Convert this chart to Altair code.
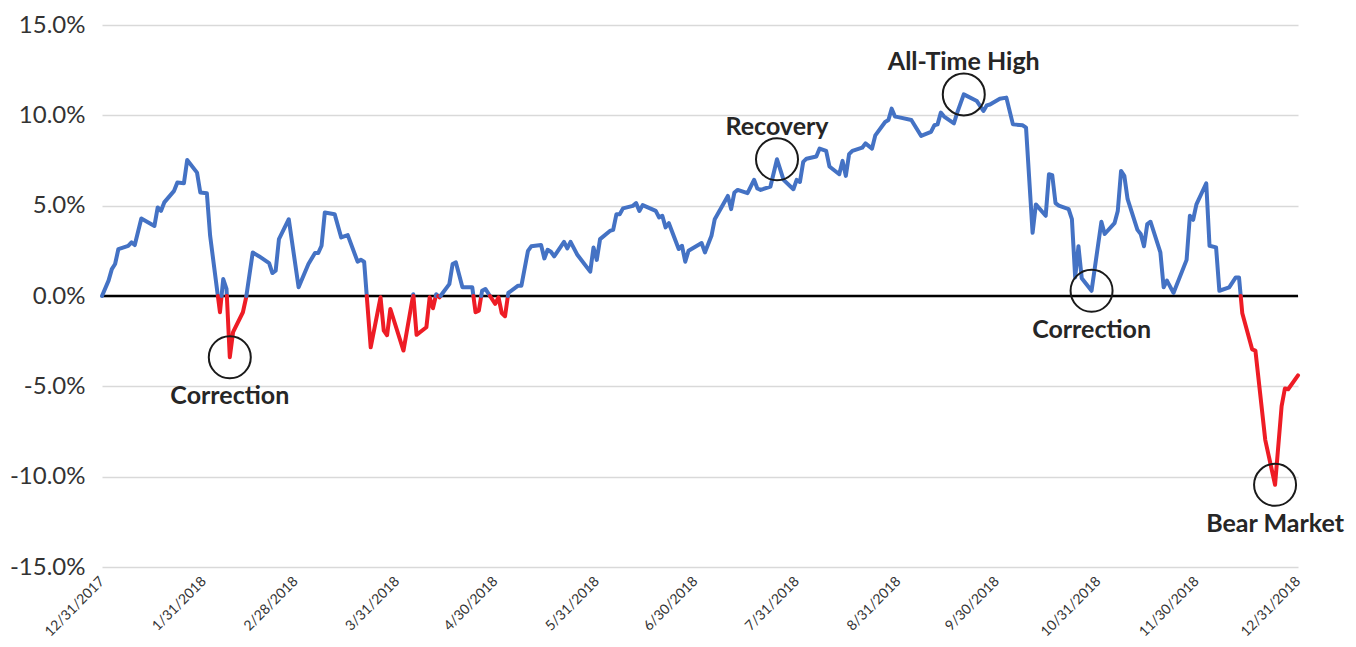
import altair as alt
import pandas as pd

# ---- data (cumulative 2018 return, %) ----
dates = [
    "2017-12-31", "2018-01-02", "2018-01-03", "2018-01-04", "2018-01-05", "2018-01-08", "2018-01-09",
    "2018-01-10", "2018-01-12", "2018-01-16", "2018-01-17", "2018-01-18", "2018-01-19", "2018-01-22",
    "2018-01-23", "2018-01-25", "2018-01-26", "2018-01-29", "2018-01-30", "2018-02-01", "2018-02-02",
    "2018-02-05", "2018-02-06", "2018-02-07", "2018-02-08", "2018-02-09", "2018-02-12", "2018-02-13",
    "2018-02-15", "2018-02-17", "2018-02-20", "2018-02-21", "2018-02-22", "2018-02-23", "2018-02-26",
    "2018-03-01", "2018-03-04", "2018-03-06", "2018-03-07", "2018-03-08", "2018-03-09", "2018-03-12",
    "2018-03-14", "2018-03-16", "2018-03-19", "2018-03-20", "2018-03-21", "2018-03-23", "2018-03-26",
    "2018-03-27", "2018-03-28", "2018-03-29", "2018-04-02", "2018-04-05", "2018-04-06", "2018-04-09",
    "2018-04-10", "2018-04-11", "2018-04-12", "2018-04-13", "2018-04-16", "2018-04-17", "2018-04-18",
    "2018-04-20", "2018-04-23", "2018-04-24", "2018-04-25", "2018-04-26", "2018-04-27", "2018-04-30",
    "2018-05-01", "2018-05-02", "2018-05-03", "2018-05-04", "2018-05-07", "2018-05-08", "2018-05-10",
    "2018-05-11", "2018-05-14", "2018-05-15", "2018-05-16", "2018-05-17", "2018-05-18", "2018-05-21",
    "2018-05-22", "2018-05-23", "2018-05-25", "2018-05-29", "2018-05-30", "2018-05-31", "2018-06-01",
    "2018-06-04", "2018-06-05", "2018-06-06", "2018-06-07", "2018-06-08", "2018-06-11", "2018-06-12",
    "2018-06-13", "2018-06-14", "2018-06-18", "2018-06-19", "2018-06-20", "2018-06-21", "2018-06-22",
    "2018-06-25", "2018-06-26", "2018-06-27", "2018-06-28", "2018-07-02", "2018-07-03", "2018-07-05",
    "2018-07-06", "2018-07-10", "2018-07-11", "2018-07-12", "2018-07-13", "2018-07-16", "2018-07-18",
    "2018-07-19", "2018-07-20", "2018-07-23", "2018-07-25", "2018-07-27", "2018-07-30", "2018-07-31",
    "2018-08-01", "2018-08-02", "2018-08-03", "2018-08-06", "2018-08-07", "2018-08-09", "2018-08-10",
    "2018-08-13", "2018-08-14", "2018-08-15", "2018-08-16", "2018-08-17", "2018-08-20", "2018-08-21",
    "2018-08-23", "2018-08-24", "2018-08-27", "2018-08-28", "2018-08-29", "2018-08-30", "2018-08-31",
    "2018-09-04", "2018-09-07", "2018-09-10", "2018-09-11", "2018-09-12", "2018-09-13", "2018-09-14",
    "2018-09-17", "2018-09-18", "2018-09-20", "2018-09-24", "2018-09-26", "2018-09-27", "2018-09-28",
    "2018-10-01", "2018-10-03", "2018-10-05", "2018-10-08", "2018-10-09", "2018-10-11", "2018-10-12",
    "2018-10-15", "2018-10-16", "2018-10-17", "2018-10-18", "2018-10-19", "2018-10-22", "2018-10-23",
    "2018-10-24", "2018-10-25", "2018-10-26", "2018-10-29", "2018-11-01", "2018-11-02", "2018-11-05",
    "2018-11-06", "2018-11-07", "2018-11-08", "2018-11-09", "2018-11-12", "2018-11-13", "2018-11-14",
    "2018-11-15", "2018-11-16", "2018-11-19", "2018-11-20", "2018-11-21", "2018-11-23", "2018-11-27",
    "2018-11-28", "2018-11-29", "2018-11-30", "2018-12-03", "2018-12-04", "2018-12-06", "2018-12-07",
    "2018-12-10", "2018-12-12", "2018-12-13", "2018-12-14", "2018-12-17", "2018-12-18", "2018-12-21",
    "2018-12-24", "2018-12-26", "2018-12-27", "2018-12-28", "2018-12-31",
]
returns_pct = [
    0.0, 0.85, 1.49, 1.77, 2.6, 2.78, 2.97,
    2.82, 4.29, 3.88, 4.9, 4.71, 5.18, 5.82,
    6.28, 6.24, 7.53, 6.83, 5.73, 5.69, 3.33,
    -0.9, 0.94, 0.39, -3.39, -2.0, -0.9, -0.07,
    2.41, 2.19, 1.82, 1.27, 1.4, 3.15, 4.25,
    0.48, 1.77, 2.38, 2.38, 2.78, 4.62, 4.53,
    3.24, 3.37, 1.9, 2.0, 1.9, -2.84, -0.07,
    -1.92, -2.17, -0.72, -3.02, 0.1, -2.15, -1.73,
    -0.07, -0.68, 0.1, -0.07, 0.66, 1.77, 1.86,
    0.48, 0.48, -0.9, -0.81, 0.29, 0.39, -0.44,
    -0.07, -0.94, -1.12, 0.17, 0.57, 0.57, 2.5,
    2.75, 2.82, 2.08, 2.56, 2.45, 2.19, 3.0,
    2.63, 3.0, 2.3, 1.35, 2.69, 2.0, 3.15,
    3.6, 3.66, 4.53, 4.53, 4.85, 4.99, 5.14,
    4.71, 5.03, 4.71, 4.35, 4.44, 3.8, 4.03,
    2.6, 2.78, 1.9, 2.5, 2.93, 2.41, 3.33,
    4.25, 5.54, 4.81, 5.73, 5.87, 5.69, 6.43,
    5.95, 5.87, 6.06, 7.57, 6.43, 5.91, 6.43,
    6.31, 7.42, 7.6, 7.72, 8.16, 8.03, 7.17,
    6.74, 7.48, 6.65, 7.85, 8.03, 8.21, 8.45,
    8.16, 8.89, 9.63, 9.74, 10.37, 9.93, 9.9,
    9.74, 8.86, 9.08, 9.45, 9.5, 10.15, 9.93,
    9.56, 10.15, 11.16, 10.79, 10.24, 10.55, 10.6,
    10.92, 10.98, 9.5, 9.45, 9.32, 3.5, 5.07,
    4.44, 6.74, 6.69, 5.14, 5.0, 4.81, 4.25,
    1.03, 2.75, 0.98, 0.29, 4.11, 3.43, 4.03,
    4.71, 6.92, 6.65, 5.36, 3.66, 3.43, 2.75,
    3.98, 4.11, 2.41, 0.48, 0.85, 0.17, 2.0,
    4.44, 4.22, 5.07, 6.24, 2.78, 2.69, 0.29,
    0.48, 1.03, 1.03, -0.96, -2.95, -3.02, -7.96,
    -10.45, -6.1, -5.12, -5.16, -4.39,
]
tick_dates = [
    "2017-12-31", "2018-01-31", "2018-02-28", "2018-03-31", "2018-04-30", "2018-05-31", "2018-06-30",
    "2018-07-31", "2018-08-31", "2018-09-30", "2018-10-31", "2018-11-30", "2018-12-31",
]
y_ticks = [-15, -10, -5, 0, 5, 10, 15]
annot_labels = ["Correction", "Recovery", "All-Time High", "Correction", "Bear Market"]
annot_dates = ["2018-02-08", "2018-07-25", "2018-09-20", "2018-10-29", "2018-12-24"]
annot_side = ["below", "above", "above", "below", "below"]

BLUE = "#4472C4"
RED = "#EE1C25"
FMT = "%Y-%m-%dT%H:%M:%S"

# ---- build coloured segments (split at zero crossings) ----
ts = [pd.Timestamp(d) for d in dates]
pts = []
for i in range(len(ts)):
    pts.append((ts[i], returns_pct[i]))
    if i < len(ts) - 1:
        v0, v1 = returns_pct[i], returns_pct[i + 1]
        if v0 * v1 < 0:
            frac = v0 / (v0 - v1)
            tc = ts[i] + (ts[i + 1] - ts[i]) * frac
            pts.append((tc.round("s"), 0.0))

rows = []
run = 0
cur = None
for j in range(len(pts) - 1):
    s = "pos" if (pts[j][1] + pts[j + 1][1]) >= 0 else "neg"
    if s != cur:
        run += 1
        cur = s
        rows.append({"date": pts[j][0].strftime(FMT), "ret": pts[j][1], "sign": s, "run": run})
    rows.append({"date": pts[j + 1][0].strftime(FMT), "ret": pts[j + 1][1], "sign": s, "run": run})
line_df = pd.DataFrame(rows)

lookup = dict(zip(dates, returns_pct))
annot_df = pd.DataFrame({
    "date": [pd.Timestamp(d).strftime(FMT) for d in annot_dates],
    "ret": [lookup[d] for d in annot_dates],
    "label": annot_labels,
    "side": annot_side,
})


def dt(s):
    t = pd.Timestamp(s)
    return alt.DateTime(year=t.year, month=t.month, date=t.day)


x_enc = alt.X(
    "date:T",
    title=None,
    scale=alt.Scale(domain=[dt(tick_dates[0]), dt(tick_dates[-1])], nice=False),
    axis=alt.Axis(
        values=[dt(d) for d in tick_dates],
        format="%-m/%-d/%Y",
        labelAngle=-45,
        labelAlign="right",
        labelBaseline="middle",
        labelPadding=12,
        labelFont="Lato",
        labelFontSize=14,
        labelColor="#333333",
        labelOverlap=False,
        grid=False,
        domain=False,
        ticks=False,
        tickSize=0,
    ),
)
y_enc = alt.Y(
    "ret:Q",
    title=None,
    scale=alt.Scale(domain=[-15, 15], nice=False, zero=False),
    axis=alt.Axis(
        values=y_ticks,
        labelExpr="(datum.value < 0 ? '-' : '') + format(abs(datum.value), '.1f') + '%'",
        labelFont="Lato",
        labelFontSize=24,
        labelColor="#333333",
        labelPadding=17,
        grid=True,
        gridColor="#d9d9d9",
        gridWidth=1.5,
        domain=False,
        ticks=False,
        tickSize=0,
    ),
)

zero_rule = alt.Chart(pd.DataFrame({"ret": [0.0]})).mark_rule(
    color="black", strokeWidth=2.5
).encode(y=y_enc)

lines = alt.Chart(line_df).mark_line(
    strokeWidth=4, strokeJoin="round", strokeCap="round"
).encode(
    x=x_enc,
    y=y_enc,
    color=alt.Color("sign:N", scale=alt.Scale(domain=["pos", "neg"], range=[BLUE, RED]), legend=None),
    detail="run:N",
)

circles = alt.Chart(annot_df).mark_point(
    shape="circle", size=1764, filled=False, color="#1a1a1a", strokeWidth=2, opacity=1
).encode(x=x_enc, y=y_enc)

text_above = alt.Chart(annot_df).transform_filter(alt.datum.side == "above").mark_text(
    font="Lato", fontWeight="bold", fontSize=25, color="#262626", dy=-32, baseline="middle"
).encode(x=x_enc, y=y_enc, text="label:N")

text_below = alt.Chart(annot_df).transform_filter(alt.datum.side == "below").mark_text(
    font="Lato", fontWeight="bold", fontSize=25, color="#262626", dy=39, baseline="middle"
).encode(x=x_enc, y=y_enc, text="label:N")

chart = alt.layer(zero_rule, lines, circles, text_above, text_below).properties(
    width=1196,
    height=542,
    autosize=alt.AutoSizeParams(type="none"),
    padding={"left": 94, "top": 17, "right": 50, "bottom": 72},
).configure_view(stroke=None)

chart.save("out.html", embed_options={"renderer": "svg", "actions": False})
